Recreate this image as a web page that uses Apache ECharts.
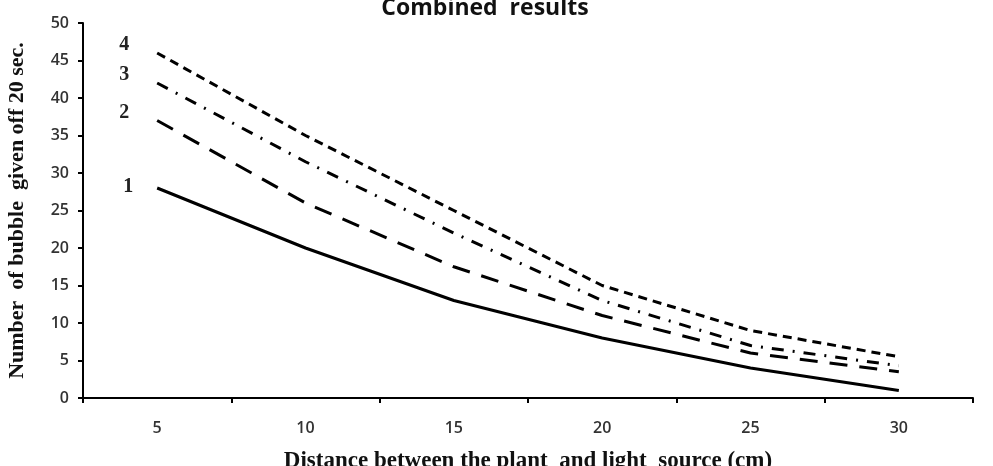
<!DOCTYPE html>
<html>
<head>
<meta charset="utf-8">
<script src="https://cdn.jsdelivr.net/npm/echarts@6/dist/echarts.min.js"></script>
<style>
  html, body { margin: 0; padding: 0; background: #fff; }
  #chart { width: 993px; height: 466px; }
</style>
</head>
<body>
<div id="chart"></div>
<script>
// distance (cm)
const distances = ['5', '10', '15', '20', '25', '30'];

// bubbles per 20 sec, one array per curve
const line1 = [28, 20, 13, 8, 4, 1];
const line2 = [37, 26, 17.5, 11, 6, 3.5];
const line3 = [42, 31.5, 22, 13, 7, 4.3];
const line4 = [46, 35, 25, 15, 9, 5.5];

const lineNames = ['1', '2', '3', '4'];

const dashes = ['solid', [18, 12], [12, 9, 2, 9], [9, 6]];
const labelOffsets = [[0, -1], [-4, -8], [-4, -8], [-4, -8]];

function makeSeries(values, idx) {
    return {
        name: lineNames[idx],
        type: 'line',
        data: values.map(function (v, i) {
            if (i !== 0) return v;
            return {
                value: v,
                label: {
                    show: true,
                    position: 'left',
                    distance: 24,
                    offset: labelOffsets[idx],
                    formatter: lineNames[idx],
                    fontFamily: 'Liberation Serif',
                    fontWeight: 'bold',
                    fontSize: 20,
                    color: '#222'
                }
            };
        }),
        symbol: 'circle',
        symbolSize: 0,
        showSymbol: true,
        smooth: false,
        lineStyle: { color: '#000', width: 3, type: dashes[idx] },
        silent: true
    };
}

const chart = echarts.init(document.getElementById('chart'));

chart.setOption({
    animation: false,
    title: {
        text: 'Combined  results',
        left: 480,
        textAlign: 'center',
        top: -8,
        textStyle: { fontFamily: 'Open Sans', fontWeight: 'bold', fontSize: 23, color: '#111' }
    },
    grid: { left: 83, right: 20, top: 23, bottom: 68, outerBoundsMode: 'none', containLabel: false },
    xAxis: {
        type: 'category',
        data: distances,
        boundaryGap: true,
        name: 'Distance between the plant  and light  source (cm)',
        nameLocation: 'middle',
        nameGap: 52,
        nameTextStyle: { fontFamily: 'Liberation Serif', fontWeight: 'bold', fontSize: 23, color: '#111' },
        axisLine: { lineStyle: { color: '#000', width: 2 } },
        axisTick: { show: true, length: 5, lineStyle: { color: '#000', width: 2 } },
        axisLabel: { margin: 22, fontFamily: 'Open Sans', fontWeight: 600, fontSize: 16, color: '#333' },
        splitLine: { show: false }
    },
    yAxis: {
        type: 'value',
        min: 0,
        max: 50,
        interval: 5,
        name: 'Number  of bubble  given off 20 sec.',
        nameLocation: 'middle',
        nameGap: 55,
        nameTextStyle: { fontFamily: 'Liberation Serif', fontWeight: 'bold', fontSize: 22, color: '#111' },
        axisLine: { show: true, lineStyle: { color: '#000', width: 2 } },
        axisTick: { show: true, length: 5, lineStyle: { color: '#000', width: 2 } },
        axisLabel: { margin: 14, fontFamily: 'Open Sans', fontWeight: 600, fontSize: 16, color: '#333' },
        splitLine: { show: false }
    },
    series: [line1, line2, line3, line4].map(makeSeries)
});
</script>
</body>
</html>
